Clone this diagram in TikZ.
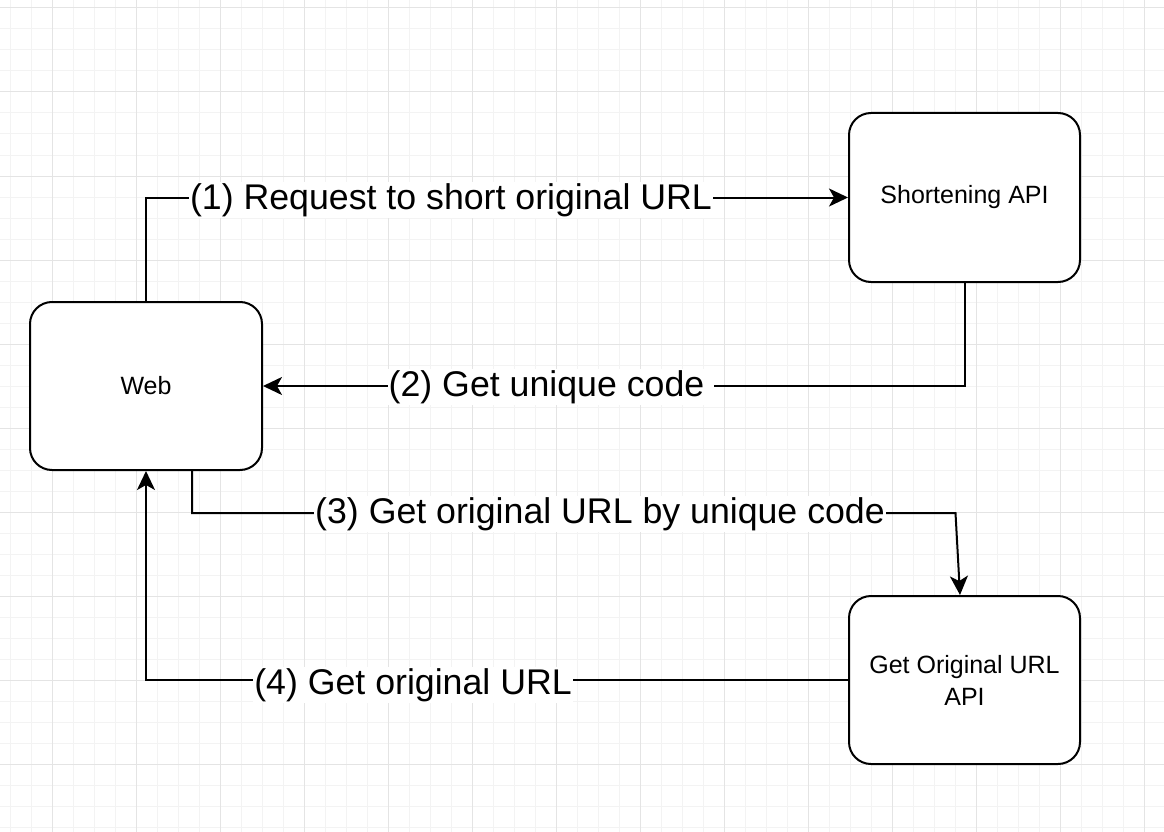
\documentclass[tikz,border=0pt]{standalone}
\usepackage{fontspec}
\setmainfont{Liberation Sans}
\usetikzlibrary{arrows.meta}
\definecolor{gridmajor}{HTML}{E4E4E4}
\definecolor{gridminor}{HTML}{F3F3F3}
\tikzset{
  box/.style={draw,line width=2pt,rounded corners=22pt,fill=white,align=center,
    font=\fontsize{25}{32}\selectfont},
  flow/.style={line width=2pt,-{Stealth[length=19pt,width=18pt,inset=5pt]}},
  lbl/.style={fill=white,inner sep=1pt,yshift=-2pt,font=\fontsize{35.7}{40}\selectfont}
}
\begin{document}
\begin{tikzpicture}[x=1pt,y=-1pt]
  \useasboundingbox (0,0) rectangle (1164,832);
  \fill[white] (0,0) rectangle (1164,832);
  % grid
  \foreach \k in {0,...,55} {
    \draw[gridminor,line width=1pt] (10+21*\k,0) -- (10+21*\k,832);
  }
  \foreach \k in {0,...,39} {
    \draw[gridminor,line width=1pt] (0,8+21*\k) -- (1164,8+21*\k);
  }
  \foreach \k in {0,...,13} {
    \draw[gridmajor,line width=1pt] (52+84*\k,0) -- (52+84*\k,832);
  }
  \foreach \k in {0,...,9} {
    \draw[gridmajor,line width=1pt] (0,8+84*\k) -- (1164,8+84*\k);
  }

  \node[box,minimum width=232pt,minimum height=168pt] (web) at (146,386) {Web};
  \node[box,minimum width=231pt,minimum height=169pt] (short) at (964.5,197.5) {Shortening API};
  \node[box,minimum width=231pt,minimum height=168pt] (orig) at (964.5,680) {Get Original URL\\API};

  \coordinate (bend3) at (955.5,513);
  \draw[flow] (web.north) |- (short.west);
  \draw[flow] (short.south) |- (web.east);
  \draw[flow] ([xshift=46pt]web.south) |- (bend3) -- ([xshift=-4.5pt]orig.north);
  \draw[flow] (orig.west) -| (web.south);

  \node[lbl] (l1) at (451,198) {(1) Request to short original URL};
  \node[lbl] (l2) at (551,385) {(2) Get unique code\hspace*{9pt}};
  \node[lbl] (l3) at (600,512) {(3) Get original URL by unique code};
  \node[lbl] (l4) at (413,683) {(4) Get original URL};
\end{tikzpicture}
\end{document}
